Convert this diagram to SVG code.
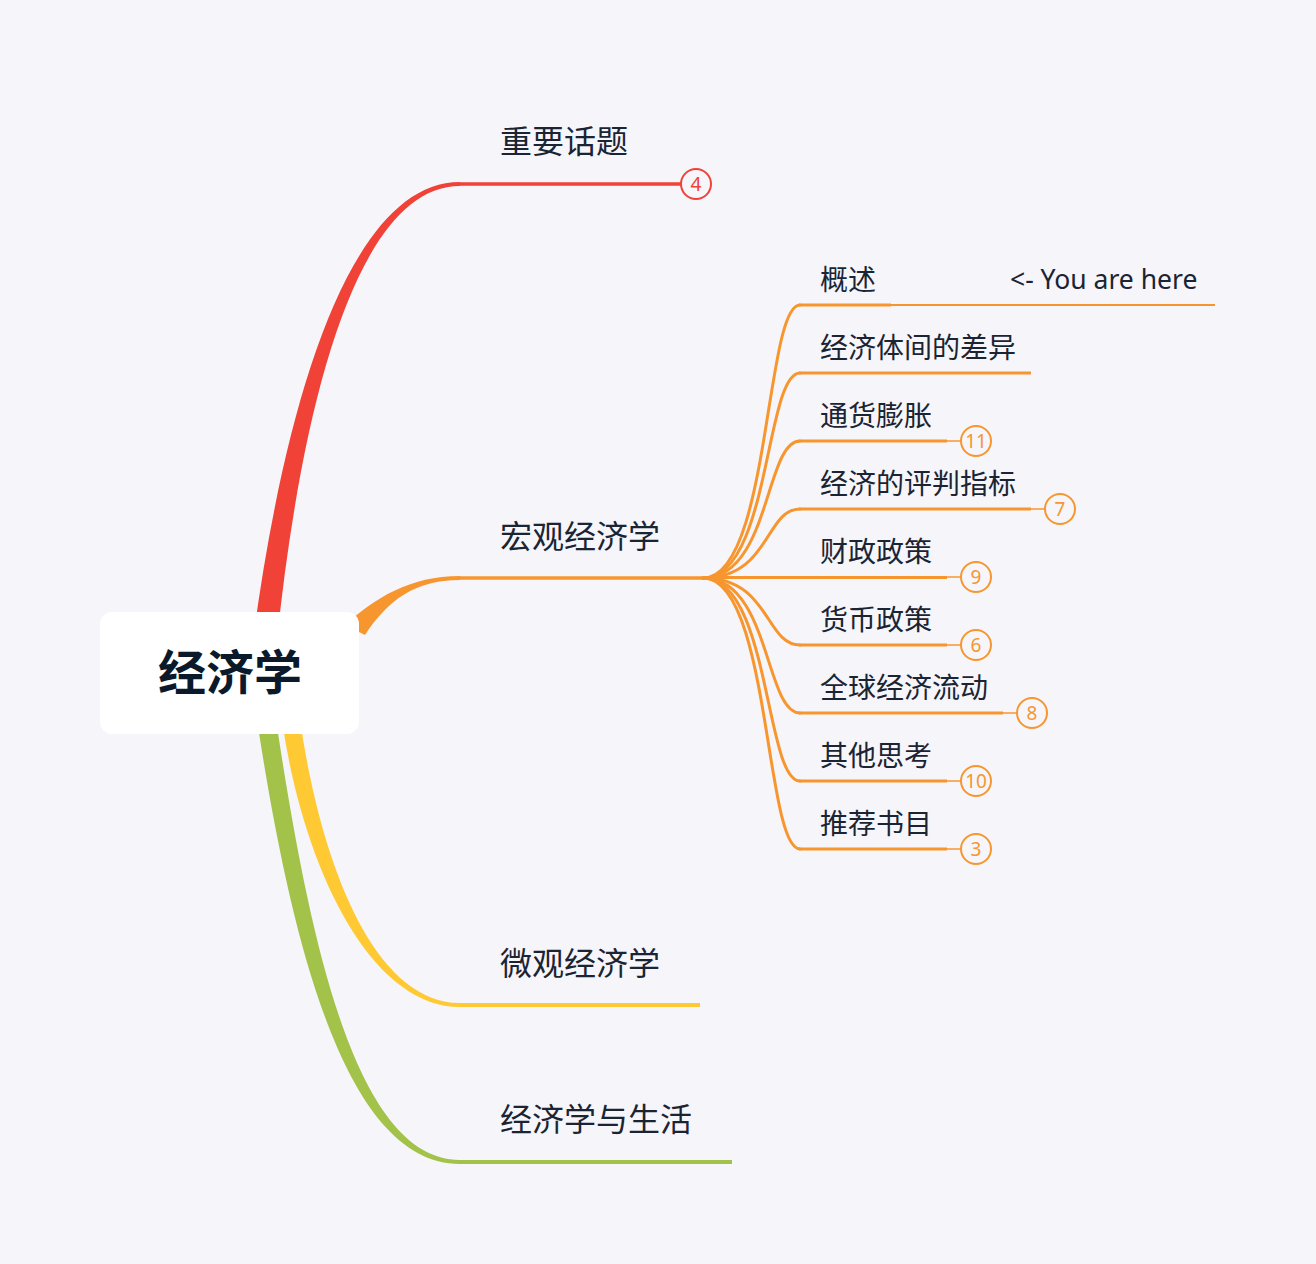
<svg xmlns="http://www.w3.org/2000/svg" width="1316" height="1264" viewBox="0 0 1316 1264">
<style>
.bg{fill:#F5F5FA}
.t1{font-family:"Noto Sans CJK SC","Noto Sans",sans-serif;font-size:32px;fill:#1B2433}
.t2{font-family:"Noto Sans CJK SC","Noto Sans",sans-serif;font-size:28px;fill:#1B2433}
.root{font-family:"Noto Sans CJK SC","Noto Sans",sans-serif;font-size:48px;font-weight:bold;fill:#0B1A2B}
.note{font-family:"Noto Sans","Open Sans",sans-serif;font-size:26.5px;fill:#1B2433}
.ob{fill:none;stroke:#F7962F;stroke-width:3;stroke-linecap:round}
.ol{fill:none;stroke:#F7962F;stroke-width:3}
.thin{fill:none;stroke:#F7962F;stroke-width:1.5}
.oc{fill:#F5F5FA;stroke:#F7962F;stroke-width:2}
.on{font-family:"Noto Sans","Open Sans",sans-serif;font-size:19px;fill:#F7962F;text-anchor:middle}
</style>
<rect class="bg" x="0" y="0" width="1316" height="1264"/>
<g id="connectors">
  <path d="M 253,640 C 285,400 350,182 460,182 L 460,186 C 358,186 302,400 277,640 Z" fill="#F04237"/>
  <path d="M 345,625 C 375,598 410,576 460,576 L 460,580 C 415,580 388,600 365,635 Z" fill="#F7962F"/>
  <path d="M 282,720 C 302,862 368,1007 460,1007 L 460,1003 C 372,1003 320,858 300,720 Z" fill="#FFC933"/>
  <path d="M 257,720 C 291,942 345,1164 460,1164 L 460,1160 C 355,1160 309,938 276,720 Z" fill="#A3C24A"/>
  <line x1="459" y1="184" x2="681" y2="184" stroke="#F04237" stroke-width="3.5"/>
  <line x1="459" y1="578" x2="705" y2="578" stroke="#F7962F" stroke-width="3.5"/>
  <line x1="459" y1="1005" x2="700" y2="1005" stroke="#FFC933" stroke-width="4"/>
  <line x1="459" y1="1162" x2="732" y2="1162" stroke="#A3C24A" stroke-width="4"/>
  <path class="ob" d="M 703,578 C 770,578 765,305 800,305"/>
  <path class="ob" d="M 703,578 C 770,578 765,373 800,373"/>
  <path class="ob" d="M 703,578 C 770,578 765,441 800,441"/>
  <path class="ob" d="M 703,578 C 770,578 765,509 800,509"/>
  <path class="ob" d="M 703,577.5 L 800,577.5"/>
  <path class="ob" d="M 703,578 C 770,578 765,645 800,645"/>
  <path class="ob" d="M 703,578 C 770,578 765,713 800,713"/>
  <path class="ob" d="M 703,578 C 770,578 765,781 800,781"/>
  <path class="ob" d="M 703,578 C 770,578 765,849 800,849"/>
  <line class="ol" x1="799" y1="305" x2="891" y2="305"/>
  <line x1="890" y1="305" x2="1215" y2="305" stroke="#F7962F" stroke-width="2"/>
  <line class="ol" x1="799" y1="373" x2="1031" y2="373"/>
  <line class="ol" x1="799" y1="441" x2="947" y2="441"/><line class="thin" x1="946" y1="441" x2="961" y2="441"/>
  <line class="ol" x1="799" y1="509" x2="1031" y2="509"/><line class="thin" x1="1030" y1="509" x2="1045" y2="509"/>
  <line class="ol" x1="799" y1="577.5" x2="947" y2="577.5"/><line class="thin" x1="946" y1="577" x2="961" y2="577"/>
  <line class="ol" x1="799" y1="645" x2="947" y2="645"/><line class="thin" x1="946" y1="645" x2="961" y2="645"/>
  <line class="ol" x1="799" y1="713" x2="1003" y2="713"/><line class="thin" x1="1002" y1="713" x2="1017" y2="713"/>
  <line class="ol" x1="799" y1="781" x2="947" y2="781"/><line class="thin" x1="946" y1="781" x2="961" y2="781"/>
  <line class="ol" x1="799" y1="849" x2="947" y2="849"/><line class="thin" x1="946" y1="849" x2="961" y2="849"/>
</g>
<g id="root">
  <rect x="100" y="612" width="259" height="122" rx="12" fill="#FFFFFF"/>
  <text class="root" x="230" y="690" text-anchor="middle">经济学</text>
</g>
<g id="n-zhongyao">
  <text class="t1" x="500" y="153">重要话题</text>
  <circle cx="696" cy="184" r="15" fill="#F5F5FA" stroke="#F04237" stroke-width="2"/>
  <text x="696" y="190.5" font-family="Noto Sans,sans-serif" font-size="19" fill="#F04237" text-anchor="middle">4</text>
</g>
<g id="n-hongguan"><text class="t1" x="500" y="548">宏观经济学</text></g>
<g id="n-weiguan"><text class="t1" x="500" y="975">微观经济学</text></g>
<g id="n-shenghuo"><text class="t1" x="500" y="1131">经济学与生活</text></g>
<g id="n-gaishu"><text class="t2" x="820" y="290">概述</text></g>
<g id="n-here"><text class="note" x="1010" y="289">&lt;- You are here</text></g>
<g id="n-chayi"><text class="t2" x="820" y="358">经济体间的差异</text></g>
<g id="n-tonghuo"><text class="t2" x="820" y="426">通货膨胀</text><circle class="oc" cx="976" cy="441" r="15"/><text class="on" x="976" y="447.5">11</text></g>
<g id="n-zhibiao"><text class="t2" x="820" y="494">经济的评判指标</text><circle class="oc" cx="1060" cy="509" r="15"/><text class="on" x="1060" y="515.5">7</text></g>
<g id="n-caizheng"><text class="t2" x="820" y="562">财政政策</text><circle class="oc" cx="976" cy="577" r="15"/><text class="on" x="976" y="583.5">9</text></g>
<g id="n-huobi"><text class="t2" x="820" y="630">货币政策</text><circle class="oc" cx="976" cy="645" r="15"/><text class="on" x="976" y="651.5">6</text></g>
<g id="n-quanqiu"><text class="t2" x="820" y="698">全球经济流动</text><circle class="oc" cx="1032" cy="713" r="15"/><text class="on" x="1032" y="719.5">8</text></g>
<g id="n-qita"><text class="t2" x="820" y="766">其他思考</text><circle class="oc" cx="976" cy="781" r="15"/><text class="on" x="976" y="787.5">10</text></g>
<g id="n-shumu"><text class="t2" x="820" y="834">推荐书目</text><circle class="oc" cx="976" cy="849" r="15"/><text class="on" x="976" y="855.5">3</text></g>
</svg>
